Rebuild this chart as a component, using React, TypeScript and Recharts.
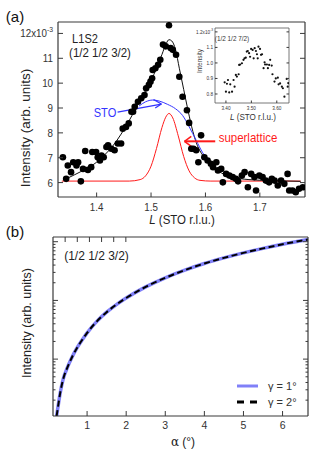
import React from 'react';
import { ComposedChart, LineChart, ScatterChart, Scatter, Line, XAxis, YAxis, ReferenceLine, Legend } from 'recharts';

const FONT = '"Liberation Sans", Arial, Helvetica, sans-serif';
const AXIS = '#3a3a3a';
const SQ = 0.85; // text in panel (a) is a little condensed in the original figure

// ---- panel (a): L1S2 scan around (1/2 1/2 3/2) ----
const scan: [number, number][] = [
  [1.338, 7.02], [1.344, 6.15], [1.347, 6.69], [1.353, 6.42], [1.357, 6.82], [1.363, 6.69],
  [1.366, 6.82], [1.371, 6.05], [1.375, 6.55], [1.379, 7.27], [1.384, 6.51], [1.39, 6.62],
  [1.392, 7.23], [1.399, 7.23], [1.402, 7.02], [1.406, 6.89], [1.409, 7.09], [1.413, 7.02],
  [1.418, 7.43], [1.421, 7.5], [1.427, 7.36], [1.433, 7.3], [1.439, 7.57], [1.445, 7.57],
  [1.448, 8.17], [1.454, 8.24], [1.459, 8.38], [1.464, 8.85], [1.467, 8.85], [1.47, 9.05],
  [1.476, 9.25], [1.482, 9.39], [1.488, 9.52], [1.491, 9.79], [1.496, 9.93], [1.499, 10.06],
  [1.502, 10.2], [1.503, 10.53], [1.508, 10.6], [1.513, 10.74], [1.517, 10.94], [1.522, 11.55],
  [1.527, 11.48], [1.533, 12.33], [1.536, 11.41], [1.54, 11.34], [1.546, 11.14], [1.552, 10.26],
  [1.558, 9.45], [1.566, 8.91], [1.57, 8.4], [1.574, 7.36], [1.578, 7.36], [1.583, 7.3],
  [1.587, 6.82], [1.592, 7.9], [1.598, 7.02], [1.604, 6.89], [1.61, 6.76], [1.614, 6.62],
  [1.62, 6.82], [1.623, 6.49], [1.629, 6.55], [1.632, 6.01], [1.638, 6.35], [1.644, 6.28],
  [1.65, 6.22], [1.656, 6.15], [1.66, 6.05], [1.667, 6.28], [1.672, 6.42], [1.678, 5.81],
  [1.684, 6.35], [1.69, 6.22], [1.693, 5.68], [1.699, 6.28], [1.705, 6.22], [1.711, 6.08],
  [1.717, 6.01], [1.722, 6.15], [1.727, 6.08], [1.733, 5.88], [1.739, 6.08], [1.745, 5.95],
  [1.751, 6.35], [1.754, 5.68], [1.76, 5.68], [1.766, 5.61], [1.772, 5.75], [1.779, 5.81],
];
const totalFit: [number, number][] = [
  [1.344, 6.15], [1.36, 6.32], [1.38, 6.55], [1.4, 6.82], [1.415, 7.12], [1.43, 7.48],
  [1.445, 7.95], [1.46, 8.5], [1.475, 9.1], [1.49, 9.7], [1.5, 10.1], [1.51, 10.6],
  [1.52, 11.15], [1.528, 11.6], [1.533, 11.75], [1.538, 11.7], [1.545, 11.35], [1.552, 10.6],
  [1.56, 9.75], [1.568, 8.9], [1.577, 8.05], [1.585, 7.5], [1.595, 7.1], [1.61, 6.7],
  [1.63, 6.38], [1.65, 6.22], [1.68, 6.12], [1.72, 6.08], [1.775, 6.05],
];
const stoFit: [number, number][] = [
  [1.478, 9.08], [1.49, 9.25], [1.503, 9.32], [1.515, 9.28], [1.53, 9.15], [1.545, 8.97],
  [1.558, 8.7], [1.57, 8.25], [1.583, 7.7], [1.595, 7.2], [1.608, 6.85], [1.62, 6.6],
];
const superlatticeFit: [number, number][] = [
  [1.336, 6.06], [1.46, 6.06], [1.48, 6.12], [1.49, 6.27], [1.5, 6.66], [1.51, 7.37],
  [1.52, 8.21], [1.527, 8.63], [1.533, 8.78], [1.54, 8.6], [1.55, 7.88], [1.56, 7.05],
  [1.57, 6.47], [1.58, 6.19], [1.59, 6.09], [1.61, 6.06], [1.775, 6.06],
];
const stoArrow: [number, number][][] = [
  [[1.4385, 8.83], [1.519, 9.16]],
  [[1.5046, 9.34], [1.519, 9.16]],
  [[1.5077, 9.0], [1.519, 9.16]],
];
const slArrow: [number, number][][] = [
  [[1.618, 7.66], [1.5615, 7.66]],
  [[1.574, 7.86], [1.5615, 7.66]],
  [[1.574, 7.46], [1.5615, 7.66]],
];
const aTicksX = [1.4, 1.5, 1.6, 1.7];
const aTicksY = [6, 7, 8, 9, 10, 11, 12];
const A_X = [1.329, 1.783];
const A_Y = [5.42, 12.46];

// ---- inset: (1/2 1/2 7/2) ----
const inset: [number, number][] = [
  [3.395, 0.875], [3.4, 0.815], [3.404, 0.866], [3.408, 0.89], [3.413, 0.81], [3.417, 0.862],
  [3.424, 0.815], [3.43, 0.89], [3.434, 0.847], [3.439, 0.923], [3.443, 0.912], [3.45, 0.927],
  [3.452, 0.987], [3.456, 0.99], [3.463, 0.998], [3.469, 1.02], [3.473, 1.03], [3.478, 1.034],
  [3.482, 1.073], [3.486, 1.077], [3.491, 1.063], [3.495, 1.04], [3.499, 1.09], [3.505, 1.084],
  [3.509, 1.03], [3.513, 1.095], [3.518, 1.077], [3.522, 1.056], [3.525, 1.03], [3.528, 1.105],
  [3.534, 1.09], [3.538, 1.052], [3.542, 1.056], [3.548, 0.966], [3.552, 1.004], [3.554, 0.99],
  [3.561, 0.99], [3.565, 0.966], [3.57, 0.987], [3.574, 1.02], [3.58, 0.983], [3.583, 0.927],
  [3.591, 0.88], [3.596, 0.9], [3.604, 0.905], [3.607, 0.862], [3.613, 0.868], [3.62, 0.847],
  [3.624, 0.837], [3.63, 0.783], [3.639, 0.897], [3.643, 0.847], [3.645, 0.87],
];
const inTicksX = [3.4, 3.5, 3.6];
const inTicksY = [0.8, 0.9, 1.0, 1.1, 1.2];
const IN_X = [3.357, 3.648];
const IN_Y = [0.742, 1.225];

// ---- panel (b): intensity vs alpha ----
const alpha = [0.22, 0.26, 0.31, 0.39, 0.5, 0.62, 0.75, 0.9, 1.0, 1.25, 1.5, 1.75, 2.0, 2.5, 3.0, 3.5, 4.0, 4.5, 5.0, 5.5, 6.0, 6.65];
const gamma1 = [1.07, 1.6, 2.6, 4.6, 7.3, 11.0, 15.8, 22.5, 28, 44, 63, 85, 110, 170, 243, 328, 425, 530, 645, 770, 905, 1090];
const gamma2 = [1.07, 1.6, 2.6, 4.6, 7.3, 11.0, 15.8, 22.5, 28, 44, 63, 85, 110, 170, 243, 328, 425, 530, 645, 770, 905, 1090];
const bTicksX = [1, 2, 3, 4, 5, 6];
const bMajorY = [10, 100, 1000];
const bTicksY = [2, 3, 4, 5, 6, 7, 8, 9, 10, 20, 30, 40, 50, 60, 70, 80, 90, 100, 200, 300, 400, 500, 600, 700, 800, 900, 1000];
const B_X = [0.128, 6.651];
const B_Y = [1.074, 1203];

const toRows = (pts: [number, number][]) => pts.map(([L, I]) => ({ L, I }));
const bRows = alpha.map((a, i) => ({ a, g1: gamma1[i], g2: gamma2[i] }));

function AxisTick(props: any) {
  const { x = 0, y = 0, payload, side, gap = 0, len = 5, minorLen, majors, fs = 11, sx = 1, fmt, sup } = props;
  const v = payload ? payload.value : 0;
  const l = majors && minorLen !== undefined && !majors.includes(v) ? minorLen : len;
  let line;
  if (side === 'left') line = <line x1={x + gap} x2={x + gap + l} y1={y} y2={y} />;
  else if (side === 'right') line = <line x1={x - gap} x2={x - gap - l} y1={y} y2={y} />;
  else if (side === 'bottom') line = <line x1={x} x2={x} y1={y - gap} y2={y - gap - l} />;
  else line = <line x1={x} x2={x} y1={y + gap} y2={y + gap + l} />;
  const label = fmt ? fmt(v) : null;
  let text = null;
  if (label !== null) {
    const anchor = side === 'left' ? 'end' : side === 'right' ? 'start' : 'middle';
    const dy = side === 'bottom' ? fs * 0.72 : fs * 0.35;
    text = (
      <text transform={`translate(${x},${y}) scale(${sx},1)`} textAnchor={anchor} dy={dy} fontSize={fs} fill="#333" fontFamily={FONT}>
        {label}
        {sup && sup.at === v ? <tspan dy={-fs * 0.45} fontSize={fs * 0.7}>{sup.text}</tspan> : null}
      </text>
    );
  }
  return (
    <g>
      <g stroke={AXIS} strokeWidth={1}>{line}</g>
      {text}
    </g>
  );
}

function Note({ x, y, size, color = '#222', sx = 1, rotate = false, children }: any) {
  const t = rotate ? 'translate(-50%,-50%) rotate(-90deg)' : `translate(-50%,-50%) scaleX(${sx})`;
  return (
    <div style={{ position: 'absolute', left: x, top: y, transform: t, fontSize: size, color, whiteSpace: 'nowrap', lineHeight: 1, fontFamily: FONT }}>
      {children}
    </div>
  );
}

function GammaLegend({ payload }: any) {
  return (
    <div style={{ fontFamily: FONT, fontSize: 11, color: '#333' }}>
      {(payload || []).map((e: any) => (
        <div key={e.value} style={{ display: 'flex', alignItems: 'center', height: 16 }}>
          <svg width={22} height={8}>
            <line x1={0} x2={21} y1={4} y2={4} stroke={e.color} strokeWidth={3} strokeDasharray={e.payload && e.payload.legendDash} />
          </svg>
          <span style={{ marginLeft: 9 }}>{e.value}</span>
        </div>
      ))}
    </div>
  );
}

const frame = { stroke: AXIS, strokeWidth: 1.2 };

export default function App() {
  return (
    <div style={{ position: 'absolute', left: 0, top: 0, width: 318, height: 455, background: '#fff', fontFamily: FONT }}>
      <div style={{ position: 'absolute', left: 0, top: 0 }}>
        <ComposedChart width={318} height={225} margin={{ top: 22, right: 13, left: 0, bottom: 0 }}>
          <XAxis xAxisId="x" dataKey="L" type="number" domain={A_X} ticks={aTicksX} allowDataOverflow interval={0} height={28}
            axisLine={frame} tickLine={false} tickSize={0} tickMargin={6}
            tick={<AxisTick side="bottom" gap={6} len={4.5} fs={11.5} sx={SQ} fmt={(v: number) => v.toFixed(1)} />} />
          <XAxis xAxisId="xt" type="number" orientation="top" mirror domain={A_X} ticks={aTicksX} allowDataOverflow interval={0}
            axisLine={frame} tickLine={false} tickSize={0} tickMargin={0} tick={<AxisTick side="top" len={4.5} />} />
          <YAxis yAxisId="y" dataKey="I" type="number" domain={A_Y} ticks={aTicksY} allowDataOverflow interval={0} width={58}
            axisLine={frame} tickLine={false} tickSize={0} tickMargin={5}
            tick={<AxisTick side="left" gap={5} len={5} fs={11.5} sx={SQ} fmt={(v: number) => (v === 12 ? '12x10' : String(v))} sup={{ at: 12, text: '-3' }} />} />
          <YAxis yAxisId="yr" type="number" orientation="right" mirror domain={A_Y} ticks={aTicksY} allowDataOverflow interval={0}
            axisLine={frame} tickLine={false} tickSize={0} tickMargin={0} tick={<AxisTick side="right" len={5} />} />
          <Line xAxisId="x" yAxisId="y" data={toRows(superlatticeFit)} dataKey="I" type="monotone" stroke="#ff1a1a" strokeWidth={1} dot={false} isAnimationActive={false} />
          <Scatter xAxisId="x" yAxisId="y" data={toRows(scan)} dataKey="I" fill="#000" isAnimationActive={false}
            shape={(p: any) => <circle cx={p.cx} cy={p.cy} r={3.3} fill="#000" />} />
          <Line xAxisId="x" yAxisId="y" data={toRows(totalFit)} dataKey="I" type="monotone" stroke="#111" strokeWidth={1} dot={false} isAnimationActive={false} />
          <Line xAxisId="x" yAxisId="y" data={toRows(stoFit)} dataKey="I" type="monotone" stroke="#3434ff" strokeWidth={1} dot={false} isAnimationActive={false} />
          {stoArrow.map((s, i) => (
            <ReferenceLine key={`sa${i}`} xAxisId="x" yAxisId="y" segment={s.map(([L, I]) => ({ x: L, y: I }))} stroke="#3434ff" strokeWidth={1.3} />
          ))}
          {slArrow.map((s, i) => (
            <ReferenceLine key={`la${i}`} xAxisId="x" yAxisId="y" segment={s.map(([L, I]) => ({ x: L, y: I }))} stroke="#ff1a1a" strokeWidth={i === 0 ? 2 : 1.5} />
          ))}
        </ComposedChart>
      </div>

      <div style={{ position: 'absolute', left: 180, top: 22 }}>
        <ScatterChart width={112} height={104} margin={{ top: 6, right: 3, left: 0, bottom: 0 }}>
          <XAxis xAxisId="x" dataKey="L" type="number" domain={IN_X} ticks={inTicksX} allowDataOverflow interval={0} height={23}
            axisLine={{ stroke: '#555', strokeWidth: 0.8 }} tickLine={false} tickSize={0} tickMargin={3}
            tick={<AxisTick side="bottom" gap={3} len={2.5} fs={5.5} sx={SQ} fmt={(v: number) => v.toFixed(2)} />} />
          <XAxis xAxisId="xt" type="number" orientation="top" mirror domain={IN_X} ticks={inTicksX} allowDataOverflow interval={0}
            axisLine={{ stroke: '#555', strokeWidth: 0.8 }} tickLine={false} tickSize={0} tickMargin={0} tick={<AxisTick side="top" len={2.5} />} />
          <YAxis yAxisId="y" dataKey="I" type="number" domain={IN_Y} ticks={inTicksY} allowDataOverflow interval={0} width={35}
            axisLine={{ stroke: '#555', strokeWidth: 0.8 }} tickLine={false} tickSize={0} tickMargin={2}
            tick={<AxisTick side="left" gap={2} len={2.5} fs={5.5} sx={SQ} fmt={(v: number) => (v === 1.2 ? '1.2x10' : v.toFixed(1))} sup={{ at: 1.2, text: '-3' }} />} />
          <YAxis yAxisId="yr" type="number" orientation="right" mirror domain={IN_Y} ticks={inTicksY} allowDataOverflow interval={0}
            axisLine={{ stroke: '#555', strokeWidth: 0.8 }} tickLine={false} tickSize={0} tickMargin={0} tick={<AxisTick side="right" len={2.5} />} />
          <Scatter xAxisId="x" yAxisId="y" data={toRows(inset)} dataKey="I" fill="#000" isAnimationActive={false}
            shape={(p: any) => <circle cx={p.cx} cy={p.cy} r={1.1} fill="#111" />} />
        </ScatterChart>
      </div>

      <div style={{ position: 'absolute', left: 0, top: 225 }}>
        <LineChart width={318} height={230} data={bRows} margin={{ top: 12, right: 10, left: 0, bottom: 0 }}>
          <XAxis xAxisId="x" dataKey="a" type="number" domain={B_X} ticks={bTicksX} allowDataOverflow interval={0} height={39}
            axisLine={frame} tickLine={false} tickSize={0} tickMargin={5}
            tick={<AxisTick side="bottom" gap={5} len={5} fs={10.5} fmt={(v: number) => String(v)} />} />
          <XAxis xAxisId="xt" type="number" orientation="top" mirror domain={B_X} ticks={bTicksX} allowDataOverflow interval={0}
            axisLine={frame} tickLine={false} tickSize={0} tickMargin={0} tick={<AxisTick side="top" len={5} />} />
          <YAxis yAxisId="y" type="number" scale="log" domain={B_Y} ticks={bTicksY} allowDataOverflow interval={0} width={53}
            axisLine={frame} tickLine={false} tickSize={0} tickMargin={0}
            tick={<AxisTick side="left" len={5} minorLen={2.5} majors={bMajorY} />} />
          <YAxis yAxisId="yr" type="number" orientation="right" mirror scale="log" domain={B_Y} ticks={bTicksY} allowDataOverflow interval={0}
            axisLine={frame} tickLine={false} tickSize={0} tickMargin={0}
            tick={<AxisTick side="right" len={5} minorLen={2.5} majors={bMajorY} />} />
          <Legend layout="vertical" align="center" verticalAlign="middle" content={<GammaLegend />}
            wrapperStyle={{ left: 237, top: 153, width: 80, height: 34 }} />
          <Line xAxisId="x" yAxisId="y" dataKey="g1" name="γ = 1°" type="monotone" stroke="#8080f8" strokeWidth={3.5} dot={false} isAnimationActive={false} />
          <Line xAxisId="x" yAxisId="y" dataKey="g2" name="γ = 2°" type="monotone" stroke="#000" strokeWidth={2} strokeDasharray="6 3.5"
            legendDash="7 6" dot={false} isAnimationActive={false} {...({} as any)} />
        </LineChart>
      </div>

      <Note x={15} y={16} size={15} color="#111">(a)</Note>
      <Note x={85} y={38} size={13} sx={SQ}>L1S2</Note>
      <Note x={100} y={53} size={13.5} sx={SQ}>(1/2 1/2 3/2)</Note>
      <Note x={104.5} y={112} size={13} sx={SQ} color="#3434ff">STO</Note>
      <Note x={248} y={137.5} size={13.5} sx={SQ} color="#ff1a1a">superlattice</Note>
      <Note x={26} y={127.5} size={13.5} rotate>Intensity (arb. units)</Note>
      <Note x={181.5} y={220} size={13.5} sx={SQ}><i>L</i> (STO r.l.u.)</Note>
      <Note x={232} y={38.7} size={7.5} sx={SQ} color="#333">(1/2 1/2 7/2)</Note>
      <Note x={199.5} y={61} size={6.5} rotate color="#444">Intensity</Note>
      <Note x={253} y={117} size={9.5} sx={SQ} color="#333"><i>L</i> (STO r.l.u.)</Note>

      <Note x={15} y={231} size={15} color="#111">(b)</Note>
      <Note x={96.5} y={256} size={12}>(1/2 1/2 3/2)</Note>
      <Note x={27} y={322.5} size={12.5} rotate>Intensity (arb. units)</Note>
      <Note x={183} y={442} size={12}><span style={{ fontFamily: '"DejaVu Serif", serif' }}>α</span> (°)</Note>
    </div>
  );
}
